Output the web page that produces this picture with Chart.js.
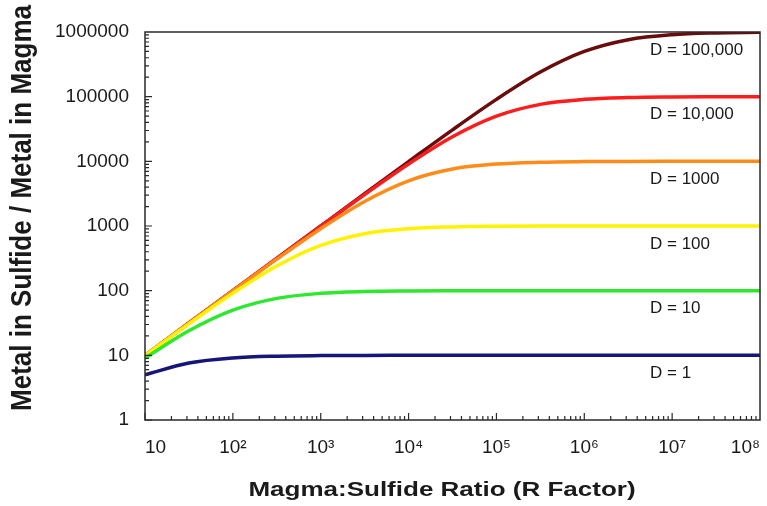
<!DOCTYPE html>
<html>
<head>
<meta charset="utf-8">
<script src="https://cdn.jsdelivr.net/npm/chart.js@4.4.1/dist/chart.umd.min.js"></script>
<style>
  html, body { margin: 0; padding: 0; background: #fff; }
  #wrap { width: 767px; height: 506px; }
</style>
</head>
<body>
<div id="wrap"><canvas id="c"></canvas></div>
<script>
/* R factor vs metal enrichment in sulfide, log-log */

var rFactor = [10, 31.6, 100, 316, 1000, 3160, 10000, 31600, 100000, 316000, 1000000, 3160000, 10000000, 31600000, 100000000];

var dOne     = [5.0, 7.6, 9.1, 9.7, 9.9, 9.97, 9.99, 10, 10, 10, 10, 10, 10, 10, 10];
var dTen     = [9.1, 24, 50, 76, 91, 97, 99, 99.7, 99.9, 100, 100, 100, 100, 100, 100];
var dHundred = [9.9, 30.6, 91, 240, 500, 760, 909, 969, 990, 997, 999, 1000, 1000, 1000, 1000];
var dThousand = [10, 31.5, 99, 307, 909, 2400, 5000, 7600, 9090, 9690, 9900, 9970, 9990, 10000, 10000];
var dTenK    = [10, 31.6, 100, 315, 990, 3060, 9090, 24000, 50000, 76000, 90900, 96900, 99000, 99700, 99900];
var dHundK   = [10, 31.6, 100, 316, 999, 3150, 9900, 30700, 90900, 240000, 500000, 760000, 909000, 969000, 990000];

var seriesNames = ['D = 1', 'D = 10', 'D = 100', 'D = 1000', 'D = 10,000', 'D = 100,000'];
var seriesColors = ['#15157a', '#2ee82e', '#fff200', '#ff8c1a', '#ff1c1c', '#6a0c0c'];

var xTickVals = [10, 100, 1000, 10000, 100000, 1000000, 10000000, 100000000];
var xTickLabels = ['10', '10\u00b2', '10\u00b3', '10\u2074', '10\u2075', '10\u2076', '10\u2077', '10\u2078'];
var yTickVals = [1, 10, 100, 1000, 10000, 100000, 1000000];
var yTickLabels = ['1', '10', '100', '1000', '10000', '100000', '1000000'];

var xTitle = 'Magma:Sulfide Ratio (R Factor)';
var yTitle = 'Metal in Sulfide / Metal in Magma';

var allSeries = [dOne, dTen, dHundred, dThousand, dTenK, dHundK];

function pts(vals) {
  return vals.map(function(v, i) { return {x: rFactor[i], y: v}; });
}

var datasets = allSeries.map(function(s, i) {
  return {
    label: seriesNames[i],
    data: pts(s),
    borderColor: seriesColors[i],
    borderWidth: 3.5,
    pointRadius: 0,
    fill: false,
    cubicInterpolationMode: 'monotone'
  };
});

var FONT = '"Liberation Sans", Arial, sans-serif';

/* box, inward log ticks, curve labels, axis titles */
var frame = {
  id: 'frame',
  afterDatasetsDraw: function(chart) {
    var ctx = chart.ctx, a = chart.chartArea;
    var xs = chart.scales.x, ys = chart.scales.y;
    ctx.save();
    ctx.strokeStyle = '#2a2a2a';
    ctx.lineWidth = 1.5;
    ctx.strokeRect(a.left, a.top, a.right - a.left, a.bottom - a.top);

    ctx.lineWidth = 1.2;
    ctx.beginPath();
    for (var e = 1; e < 8; e++) {
      for (var m = 1; m <= 9; m++) {
        var px = xs.getPixelForValue(m * Math.pow(10, e));
        var len = m === 1 ? 7 : 4;
        ctx.moveTo(px, a.bottom);
        ctx.lineTo(px, a.bottom - len);
      }
    }
    for (var k = 0; k < 6; k++) {
      for (var n = 1; n <= 9; n++) {
        var py = ys.getPixelForValue(n * Math.pow(10, k));
        var l2 = n === 1 ? 7 : 4;
        ctx.moveTo(a.left, py);
        ctx.lineTo(a.left + l2, py);
      }
    }
    ctx.stroke();

    ctx.fillStyle = '#1a1a1a';
    ctx.font = '17px ' + FONT;
    ctx.textBaseline = 'middle';
    ctx.textAlign = 'left';
    var lx = xs.getPixelForValue(5600000);
    allSeries.forEach(function(s, i) {
      var py = ys.getPixelForValue(s[s.length - 1]) + 18;
      ctx.fillText(seriesNames[i], lx, py);
    });

    // axis titles (the original artwork is stretched sideways)
    ctx.textAlign = 'center';
    ctx.font = 'bold 20px ' + FONT;
    ctx.save();
    ctx.translate(442, 490);
    ctx.scale(1.3, 1);
    ctx.fillText(xTitle, 0, 0);
    ctx.restore();

    ctx.font = 'bold 26px ' + FONT;
    ctx.save();
    ctx.translate(23, 208);
    ctx.rotate(-Math.PI / 2);
    ctx.scale(1, 1.15);
    ctx.fillText(yTitle, 0, 0);
    ctx.restore();
    ctx.restore();
  }
};

var tickFont = {family: FONT, size: 19};

new Chart(document.getElementById('c'), {
  type: 'line',
  data: {datasets: datasets},
  plugins: [frame],
  options: {
    responsive: true, maintainAspectRatio: false,
    animation: false,
    layout: {padding: {top: 32, right: 7, left: 0, bottom: 0}},
    plugins: {legend: {display: false}, tooltip: {enabled: false}},
    scales: {
      x: {
        type: 'logarithmic', min: 10, max: 100000000,
        grid: {display: false, drawTicks: false},
        border: {display: false},
        afterBuildTicks: function(s) { s.ticks = xTickVals.map(function(v) { return {value: v}; }); },
        afterFit: function(s) { s.height = 86; s.paddingLeft = 0; s.paddingRight = 0; },
        ticks: {
          color: '#1a1a1a', font: tickFont, padding: 16, maxRotation: 0, autoSkip: false, align: 'inner',
          callback: function(v) { var i = xTickVals.indexOf(v); return i < 0 ? '' : xTickLabels[i]; }
        }
      },
      y: {
        type: 'logarithmic', min: 1, max: 1000000,
        grid: {display: false, drawTicks: false},
        border: {display: false},
        afterBuildTicks: function(s) { s.ticks = yTickVals.map(function(v) { return {value: v}; }); },
        afterFit: function(s) { s.width = 145; s.paddingTop = 0; s.paddingBottom = 0; },
        ticks: {
          color: '#1a1a1a', font: tickFont, padding: 16, autoSkip: false,
          callback: function(v) { var i = yTickVals.indexOf(v); return i < 0 ? '' : yTickLabels[i]; }
        }
      }
    }
  }
});
</script>
</body>
</html>
